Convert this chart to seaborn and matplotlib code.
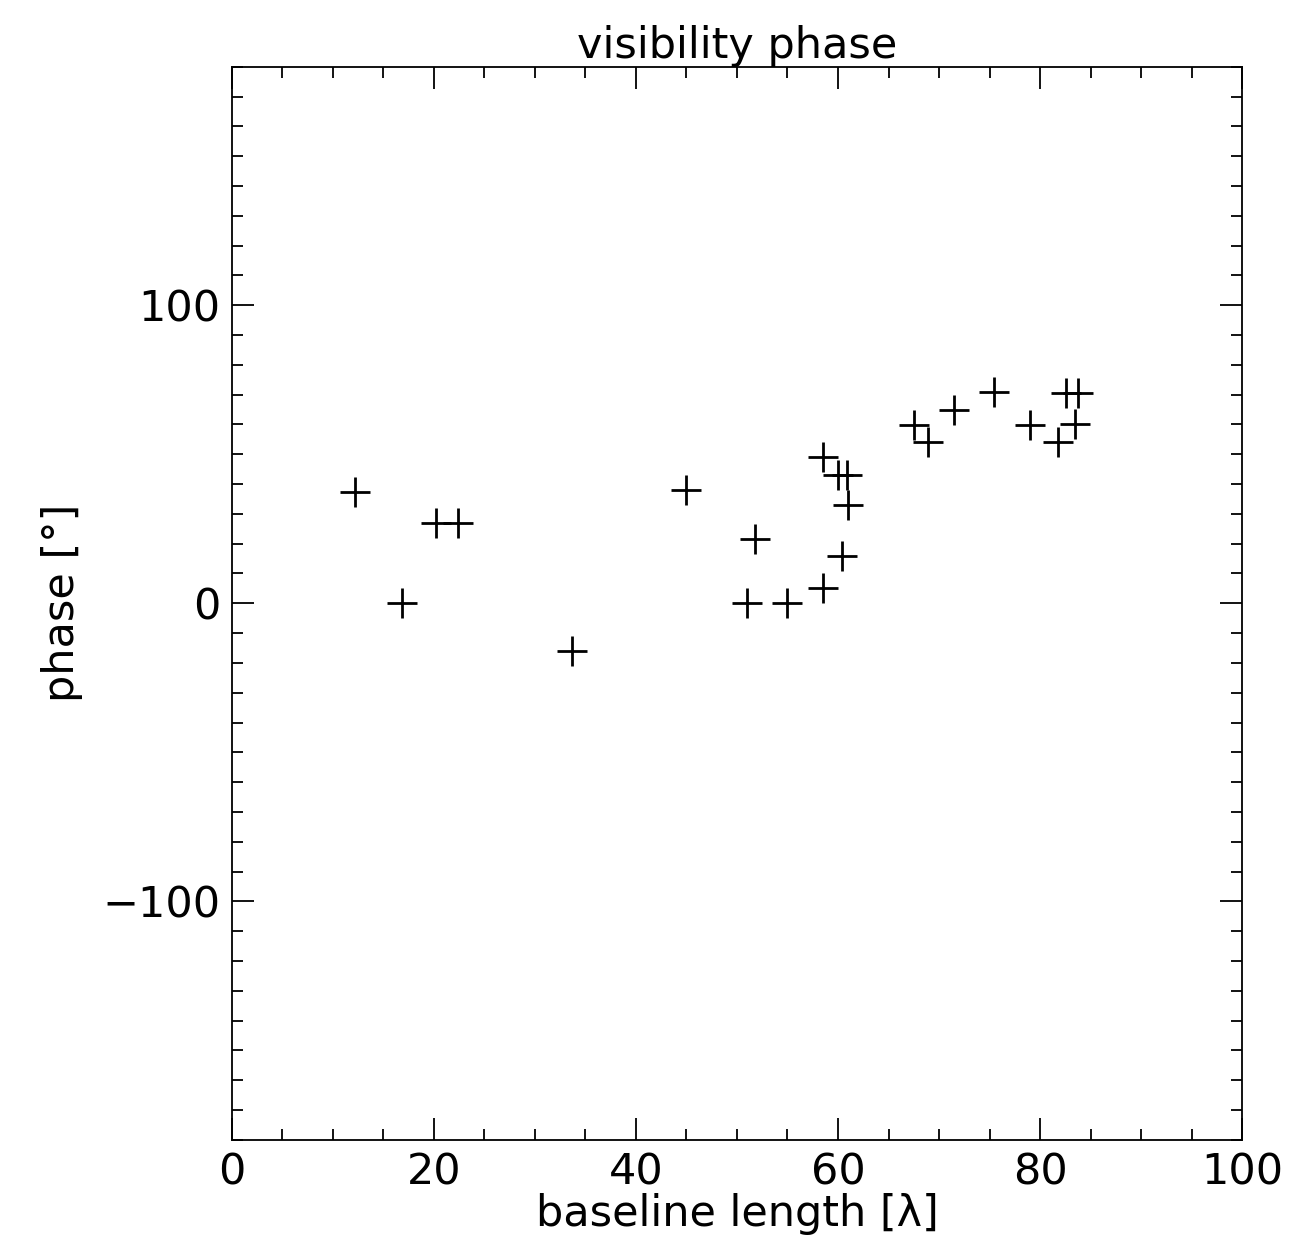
import numpy as np
import pandas as pd
import seaborn as sns
import matplotlib.pyplot as plt
from matplotlib.ticker import MultipleLocator

# baseline length [lambda] and visibility phase [deg]
baseline = [12.2, 16.9, 20.2, 22.4, 33.7, 45.0, 51.0, 51.8, 55.0, 58.5,
            58.5, 60.0, 60.9, 61.0, 60.4, 67.5, 68.9, 71.5, 75.4, 79.0,
            81.8, 82.6, 83.7, 83.4]
phase = [37.5, 0, 27, 27, -16, 38, 0, 21.7, 0, 5.2,
         49, 43, 43, 33, 16, 59.7, 54, 65, 71, 59.7,
         54, 70.5, 70.5, 60]

df = pd.DataFrame({"baseline": baseline, "phase": phase})

sns.set_style("ticks")
plt.rcParams['font.family'] = ['DejaVu Sans']
plt.rcParams['text.color'] = 'black'
plt.rcParams['axes.labelcolor'] = 'black'
plt.rcParams['xtick.color'] = 'black'
plt.rcParams['ytick.color'] = 'black'

fig = plt.figure(figsize=(13.16, 12.35), dpi=100)
ax = fig.add_axes([0.176, 0.077, 0.768, 0.869])

sns.scatterplot(data=df, x="baseline", y="phase", marker="+", s=440,
                color="black", linewidth=2.0, ax=ax)

ax.set_xlim(0, 100)
ax.set_ylim(-180, 180)
ax.xaxis.set_major_locator(MultipleLocator(20))
ax.xaxis.set_minor_locator(MultipleLocator(5))
ax.yaxis.set_major_locator(MultipleLocator(100))
ax.yaxis.set_minor_locator(MultipleLocator(10))
ax.tick_params(which="both", direction="in", top=True, right=True,
               width=1.3, color="black")
ax.tick_params(which="major", length=16, labelsize=31, pad=8)
ax.tick_params(which="minor", length=8)
for sp in ax.spines.values():
    sp.set_linewidth(1.3)
    sp.set_color("black")

ax.set_title("visibility phase", fontsize=31, pad=6)
ax.set_xlabel("baseline length [λ]", fontsize=31, labelpad=0)
ax.set_ylabel("phase [°]", fontsize=31, labelpad=14)

plt.savefig("out.png", dpi=100)
